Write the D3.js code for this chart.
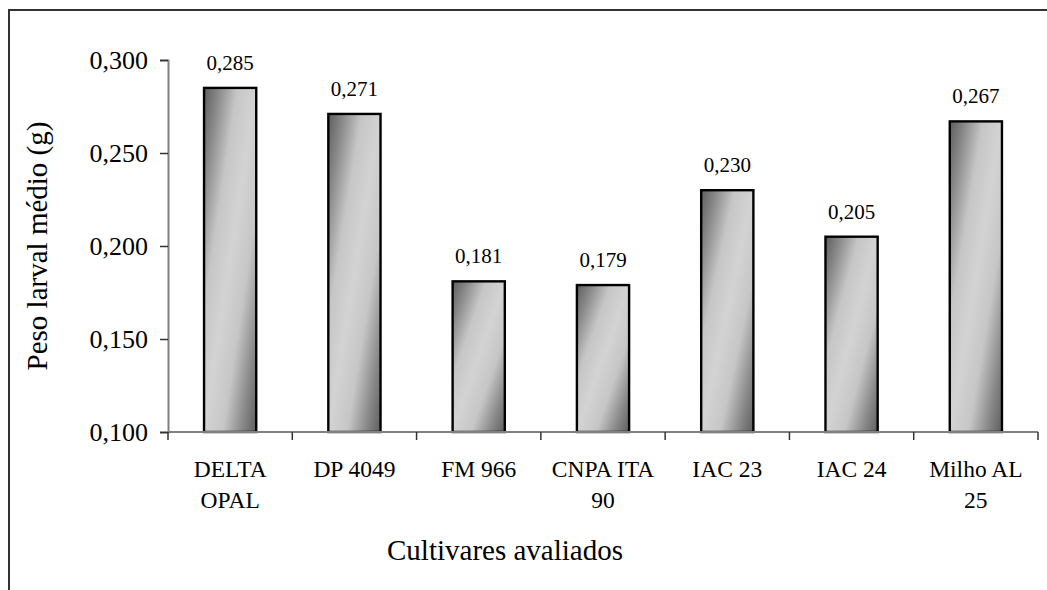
<!DOCTYPE html>
<html>
<head>
<meta charset="utf-8">
<script src="https://cdn.jsdelivr.net/npm/d3@7"></script>
<style>
  body { margin: 0; background: #fff; }
  text { font-family: "Liberation Serif", "Times New Roman", serif; fill: #000; }
</style>
</head>
<body>
<div id="plot"></div>
<script>
// chart data
const cultivares = ["DELTA OPAL", "DP 4049", "FM 966", "CNPA ITA 90", "IAC 23", "IAC 24", "Milho AL 25"];
const peso = [0.285, 0.271, 0.181, 0.179, 0.230, 0.205, 0.267];
const yTicks = [0.100, 0.150, 0.200, 0.250, 0.300];

const width = 1047, height = 590;
const plotLeft = 168, plotRight = 1038, plotTop = 60, plotBottom = 432;

const svg = d3.select("#plot")
    .append("svg")
    .attr("width", width)
    .attr("height", height);

// diagonal gradient on the bars (dark corners top-left / bottom-right)
const grad = svg.append("defs").append("linearGradient")
    .attr("id", "barGrad")
    .attr("x1", 0).attr("y1", 0)
    .attr("x2", 1).attr("y2", 1);
[[0, "#5e5e5e"], [0.14, "#888"], [0.32, "#c6c6c6"], [0.5, "#d3d3d3"],
 [0.68, "#c6c6c6"], [0.86, "#888"], [1, "#5e5e5e"]].forEach(s => {
    grad.append("stop").attr("offset", s[0]).attr("stop-color", s[1]);
});

// outer frame (runs off the right and bottom edges)
svg.append("rect")
    .attr("x", 9).attr("y", 10)
    .attr("width", width + 20).attr("height", height + 20)
    .attr("fill", "none")
    .attr("stroke", "#333")
    .attr("stroke-width", 2);

const x = d3.scaleBand()
    .domain(cultivares)
    .range([plotLeft, plotRight])
    .paddingInner(0.58)
    .paddingOuter(0.29);

const y = d3.scaleLinear()
    .domain([0.1, 0.3])
    .range([plotBottom, plotTop]);

const fmt = d => d3.format(".3f")(d).replace(".", ",");

// bars
svg.selectAll("rect.bar").data(peso).enter().append("rect")
    .attr("class", "bar")
    .attr("x", (d, i) => x(cultivares[i]))
    .attr("y", d => y(d))
    .attr("width", x.bandwidth())
    .attr("height", d => plotBottom - y(d))
    .attr("fill", "url(#barGrad)")
    .attr("stroke", "#000")
    .attr("stroke-width", 2.4);

// value labels
svg.selectAll("text.val").data(peso).enter().append("text")
    .attr("class", "val")
    .attr("x", (d, i) => x(cultivares[i]) + x.bandwidth() / 2)
    .attr("y", d => y(d) - 18)
    .attr("text-anchor", "middle")
    .style("font-size", "21px")
    .text(fmt);

// y axis
const yAxis = svg.append("g")
    .attr("transform", `translate(${plotLeft},0)`)
    .call(d3.axisLeft(y).tickValues(yTicks).tickFormat(fmt).tickSize(8).tickPadding(12));
yAxis.select(".domain").attr("stroke", "#808080").attr("stroke-width", 2);
yAxis.selectAll(".tick line").attr("stroke", "#333").attr("stroke-width", 1.5);
yAxis.selectAll(".tick text")
    .style("font-family", '"Liberation Serif", "Times New Roman", serif')
    .style("font-size", "26px")
    .attr("fill", "#000");

// x axis line and category separators
const sepTicks = d3.range(cultivares.length + 1).map(i => plotLeft + i * (plotRight - plotLeft) / cultivares.length);
svg.append("line")
    .attr("x1", plotLeft).attr("x2", plotRight)
    .attr("y1", plotBottom).attr("y2", plotBottom)
    .attr("stroke", "#808080").attr("stroke-width", 2);
svg.selectAll("line.sep").data(sepTicks).enter().append("line")
    .attr("class", "sep")
    .attr("x1", d => d).attr("x2", d => d)
    .attr("y1", plotBottom).attr("y2", plotBottom + 8)
    .attr("stroke", "#333").attr("stroke-width", 1.5);

// category labels, wrapped onto two lines if too wide
svg.selectAll("text.cat").data(cultivares).enter().append("text")
    .attr("class", "cat")
    .attr("text-anchor", "middle")
    .style("font-size", "23.5px")
    .each(function(d) {
        const t = d3.select(this);
        const cx = x(d) + x.bandwidth() / 2;
        const words = d.split(" ");
        let lines = [d];
        t.text(d);
        if (this.getComputedTextLength() > 112) {
            lines = [words.slice(0, -1).join(" "), words[words.length - 1]];
        }
        t.text(null);
        lines.forEach((ln, k) => {
            t.append("tspan")
                .attr("x", cx)
                .attr("y", 477 + k * 31)
                .text(ln);
        });
    });

// axis titles
svg.append("text")
    .attr("x", 505)
    .attr("y", 560)
    .attr("text-anchor", "middle")
    .style("font-size", "29px")
    .text("Cultivares avaliados");

svg.append("text")
    .attr("transform", `translate(47,${(plotTop + plotBottom) / 2}) rotate(-90)`)
    .attr("text-anchor", "middle")
    .style("font-size", "29px")
    .text("Peso larval médio (g)");
</script>
</body>
</html>
